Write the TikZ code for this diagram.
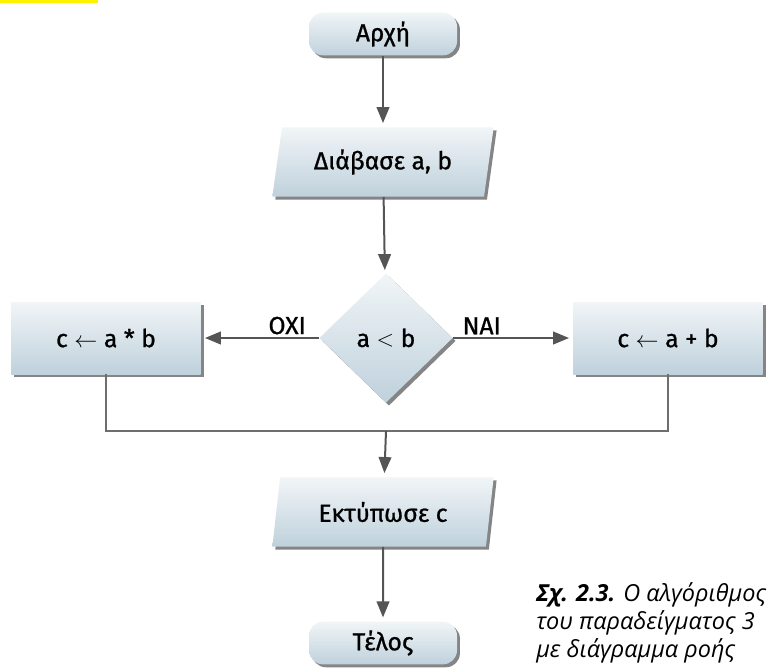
\documentclass[tikz,border=0pt]{standalone}
\usepackage{fontspec}
\setmainfont{Fira Sans}
\newfontfamily\boxfont{Fira Sans}[FakeBold=0.9]
\newfontfamily\capfont{Open Sans}
\usepackage{tikz}
\usetikzlibrary{shapes.geometric,shadows,arrows.meta}

\definecolor{boxtop}{HTML}{F1F5F7}
\definecolor{boxbot}{HTML}{BFD1DC}
\definecolor{linegray}{HTML}{555555}

\tikzset{
  box/.style={top color=boxtop,bottom color=boxbot,inner sep=0pt,
    drop shadow={shadow xshift=2.2pt,shadow yshift=-2.2pt,fill=black!60,opacity=0.8},
    font=\boxfont\fontsize{18.5pt}{22pt}\selectfont},
  terminal/.style={box,rectangle,rounded corners=10.5pt,minimum width=111pt,minimum height=32pt},
  io/.style={box,trapezium,trapezium left angle=69,trapezium right angle=111,
    trapezium stretches body,minimum width=166pt,minimum height=52pt},
  decision/.style={box,diamond,minimum width=100pt,minimum height=97pt},
  process/.style={box,rectangle,minimum width=142pt,minimum height=54pt},
  flow/.style={draw=linegray,line width=1.5pt,-{Triangle[length=12pt,width=9.5pt]},shorten >=3pt},
  mergeline/.style={draw=linegray!85,line width=1.4pt},
  answer/.style={font=\boxfont\fontsize{18.5pt}{22pt}\selectfont,inner sep=2pt}
}

\begin{document}
\begin{tikzpicture}[x=0.75pt,y=-0.75pt]
\useasboundingbox (0,0) rectangle (767,668);
\fill[yellow] (0,0) rectangle (98,2.5);

\node[terminal] (start) at (383,34) {Αρχή};
\node[io] (read) at (383,162) {Διάβασε a, b};
\node[decision] (cond) at (386,338) {a $<$ b};
\node[process] (mul) at (106,338) {c $\leftarrow$ a * b};
\node[process] (add) at (668,338) {c $\leftarrow$ a + b};
\coordinate (merge) at (386,431);
\node[io] (print) at (383,512) {Εκτύπωσε c};
\node[terminal] (stop) at (383,643) {Τέλος};

\draw[flow] (start) -- (read);
\draw[flow] (read) -- (cond);
\draw[flow] (cond.west) -- node[answer,pos=0.27,above] {ΟΧΙ} (mul.east);
\draw[flow] (cond.east) -- node[answer,pos=0.24,above] {ΝΑΙ} (add.west);
\draw[mergeline] (mul.south) |- (merge) -| (add.south);
\draw[flow] (merge) -- (print);
\draw[flow] (print) -- (stop);

\node[anchor=north west,align=left,inner sep=0pt,
  font=\capfont\itshape\fontsize{17.6pt}{21pt}\selectfont] (caption) at (536,582)
  {{\bfseries Σχ. 2.3.} Ο αλγόριθμος\\του παραδείγματος 3\\με διάγραμμα ροής};
\end{tikzpicture}
\end{document}
